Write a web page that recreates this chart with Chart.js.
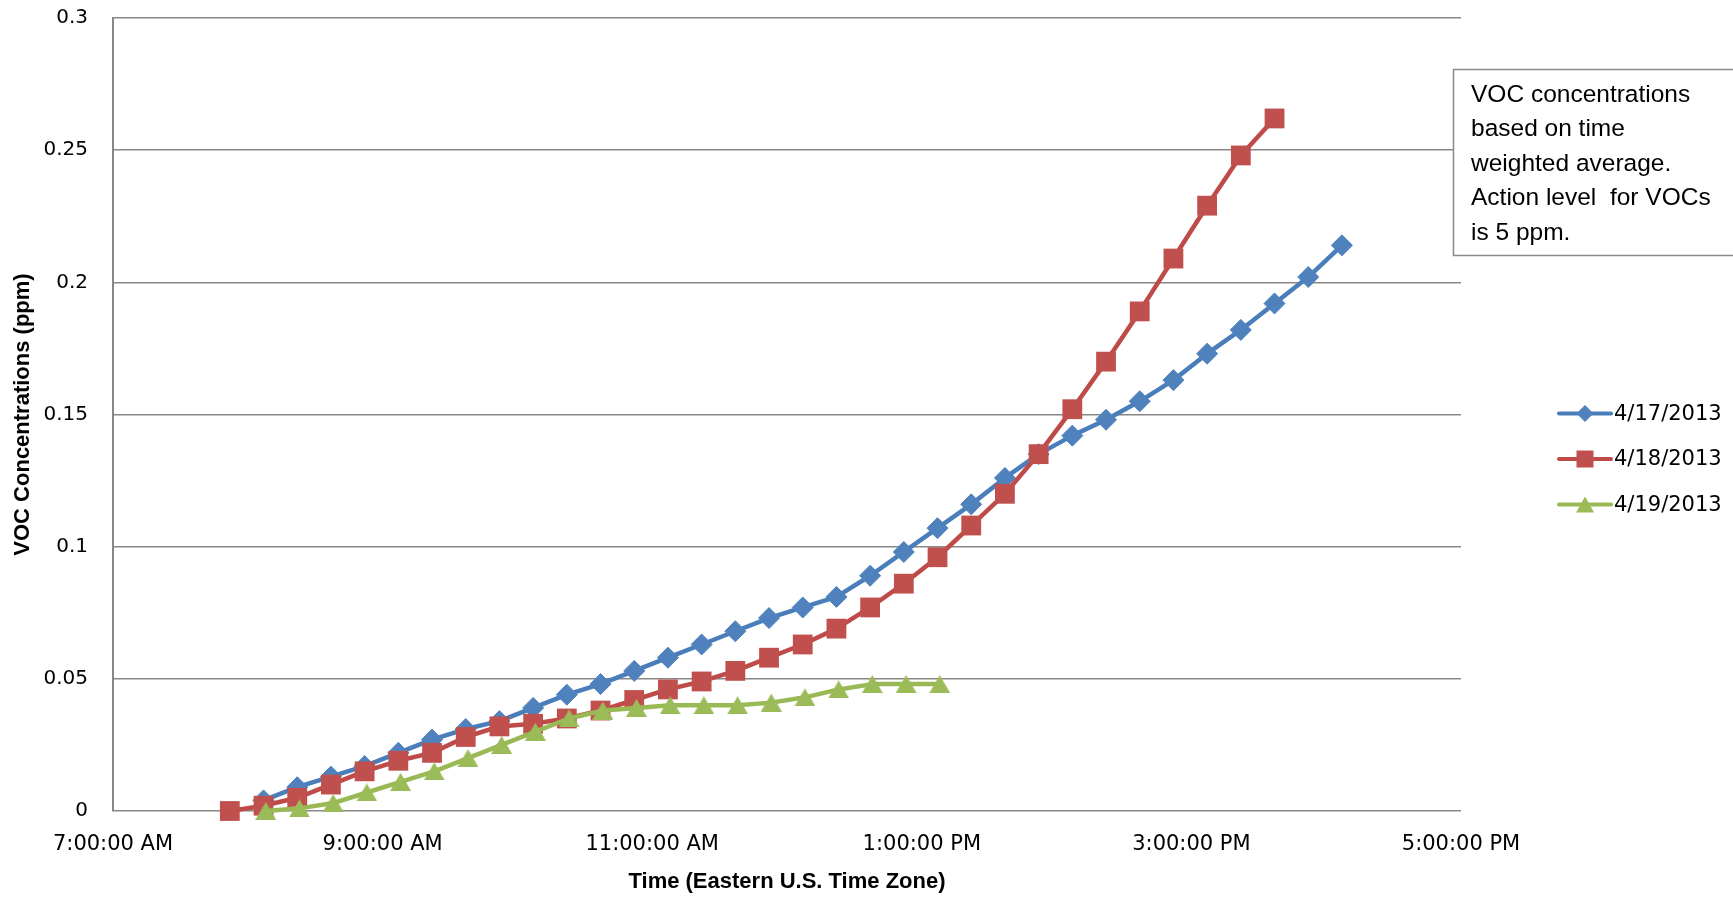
<!DOCTYPE html>
<html>
<head>
<meta charset="utf-8">
<title>VOC Concentrations</title>
<script src="https://cdn.jsdelivr.net/npm/chart.js@4.4.1/dist/chart.umd.min.js"></script>
<style>
  html, body { margin: 0; padding: 0; background: #ffffff; }
  canvas { display: block; }
</style>
</head>
<body>
<canvas id="voc" width="1733" height="899"></canvas>
<script>
// ---- data -------------------------------------------------------------
const xTickValues = [7, 9, 11, 13, 15, 17];
const xTickLabels = ['7:00:00 AM', '9:00:00 AM', '11:00:00 AM', '1:00:00 PM', '3:00:00 PM', '5:00:00 PM'];
const yTickValues = [0, 0.05, 0.1, 0.15, 0.2, 0.25, 0.3];
const yTickLabels = ['0', '0.05', '0.1', '0.15', '0.2', '0.25', '0.3'];

const seriesNames = ['4/17/2013', '4/18/2013', '4/19/2013'];

const times0417 = ['8:07', '8:22', '8:37', '8:52', '9:07', '9:22', '9:37', '9:52', '10:07', '10:22', '10:37',
  '10:52', '11:07', '11:22', '11:37', '11:52', '12:07', '12:22', '12:37', '12:52', '13:07', '13:22',
  '13:37', '13:52', '14:07', '14:22', '14:37', '14:52', '15:07', '15:22', '15:37', '15:52', '16:07'];
const voc0417 = [0.004, 0.009, 0.013, 0.017, 0.022, 0.027, 0.031, 0.034, 0.039, 0.044, 0.048,
  0.053, 0.058, 0.063, 0.068, 0.073, 0.077, 0.081, 0.089, 0.098, 0.107, 0.116,
  0.126, 0.135, 0.142, 0.148, 0.155, 0.163, 0.173, 0.182, 0.192, 0.202, 0.214];

const times0418 = ['7:52', '8:07', '8:22', '8:37', '8:52', '9:07', '9:22', '9:37', '9:52', '10:07', '10:22',
  '10:37', '10:52', '11:07', '11:22', '11:37', '11:52', '12:07', '12:22', '12:37', '12:52', '13:07',
  '13:22', '13:37', '13:52', '14:07', '14:22', '14:37', '14:52', '15:07', '15:22', '15:37'];
const voc0418 = [0.000, 0.002, 0.005, 0.010, 0.015, 0.019, 0.022, 0.028, 0.032, 0.033, 0.035,
  0.038, 0.042, 0.046, 0.049, 0.053, 0.058, 0.063, 0.069, 0.077, 0.086, 0.096,
  0.108, 0.120, 0.135, 0.152, 0.170, 0.189, 0.209, 0.229, 0.248, 0.262];

const times0419 = ['8:08', '8:23', '8:38', '8:53', '9:08', '9:23', '9:38', '9:53', '10:08', '10:23', '10:38',
  '10:53', '11:08', '11:23', '11:38', '11:53', '12:08', '12:23', '12:38', '12:53', '13:08'];
const voc0419 = [0.000, 0.001, 0.003, 0.007, 0.011, 0.015, 0.020, 0.025, 0.030, 0.035, 0.038,
  0.039, 0.040, 0.040, 0.040, 0.041, 0.043, 0.046, 0.048, 0.048, 0.048];

const noteLines = ['VOC concentrations', 'based on time', 'weighted average.', 'Action level  for VOCs', 'is 5 ppm.'];

// ---- helpers ----------------------------------------------------------
function toHours(t) {
  const [h, m] = t.split(':').map(Number);
  return h + m / 60;
}
function toPoints(times, values) {
  return times.map((t, i) => ({ x: toHours(t), y: values[i] }));
}
// Triangle marker whose bounding box is centred on the data point
function triangleMarker(color, w, h) {
  const c = document.createElement('canvas');
  c.width = w; c.height = h;
  const g = c.getContext('2d');
  g.fillStyle = color;
  g.beginPath();
  g.moveTo(w / 2, 0);
  g.lineTo(w, h);
  g.lineTo(0, h);
  g.closePath();
  g.fill();
  return c;
}

const BLUE_LINE = '#4A7EBB', BLUE_MARK = '#4F81BD';
const RED_LINE = '#BE4B48', RED_MARK = '#C0504D';
const GREEN_LINE = '#98B954', GREEN_MARK = '#9BBB59';
const GRID = '#878787';

const greenTriangle = triangleMarker(GREEN_MARK, 21, 18);

// ---- side legend and note box -----------------------------------------
const legendStyles = [
  { line: BLUE_LINE, mark: BLUE_MARK, shape: 'diamond' },
  { line: RED_LINE, mark: RED_MARK, shape: 'square' },
  { line: GREEN_LINE, mark: GREEN_MARK, shape: 'triangle' }
];

const sidePanel = {
  id: 'sidePanel',
  afterDraw(chart) {
    const ctx = chart.ctx;
    ctx.save();

    // note box
    ctx.fillStyle = '#ffffff';
    ctx.fillRect(1453, 69, 300, 186);
    ctx.strokeStyle = '#8a8a8a';
    ctx.lineWidth = 1.5;
    ctx.strokeRect(1453.5, 69.5, 300, 186);
    ctx.fillStyle = '#000000';
    ctx.font = '24.5px "Liberation Sans", Arial, sans-serif';
    ctx.textBaseline = 'middle';
    ctx.textAlign = 'left';
    noteLines.forEach((line, i) => ctx.fillText(line, 1471, 95 + i * 34.5));

    // legend
    chart.data.datasets.forEach((ds, i) => {
      const st = legendStyles[i];
      const y = 413.5 + i * 45.5;
      ctx.strokeStyle = st.line;
      ctx.lineWidth = 4;
      ctx.lineCap = 'round';
      ctx.beginPath();
      ctx.moveTo(1559, y);
      ctx.lineTo(1611, y);
      ctx.stroke();
      const cx = 1585;
      ctx.fillStyle = st.mark;
      ctx.beginPath();
      if (st.shape === 'diamond') {
        ctx.moveTo(cx, y - 8.5); ctx.lineTo(cx + 8.5, y); ctx.lineTo(cx, y + 8.5); ctx.lineTo(cx - 8.5, y);
      } else if (st.shape === 'square') {
        ctx.rect(cx - 8.5, y - 8.5, 17, 17);
      } else {
        ctx.moveTo(cx, y - 8); ctx.lineTo(cx + 9, y + 8); ctx.lineTo(cx - 9, y + 8);
      }
      ctx.closePath();
      ctx.fill();
      ctx.fillStyle = '#000000';
      ctx.font = '21px "DejaVu Sans", sans-serif';
      ctx.textBaseline = 'middle';
      ctx.fillText(ds.label, 1614, y + 1);
    });
    ctx.restore();
  }
};

// ---- chart ------------------------------------------------------------
const xTickFont = { family: '"DejaVu Sans", sans-serif', size: 21 };
const yTickFont = { family: '"DejaVu Sans", sans-serif', size: 20 };
const titleFont = { family: '"Liberation Sans", Arial, sans-serif', size: 22, weight: 'bold' };

new Chart(document.getElementById('voc'), {
  type: 'line',
  data: {
    datasets: [
      {
        label: seriesNames[0],
        data: toPoints(times0417, voc0417),
        borderColor: BLUE_LINE, backgroundColor: BLUE_MARK,
        borderWidth: 4.5, pointStyle: 'rectRot', pointRadius: 10.5,
        pointBackgroundColor: BLUE_MARK, pointBorderColor: BLUE_MARK, pointBorderWidth: 1,
        order: 3
      },
      {
        label: seriesNames[1],
        data: toPoints(times0418, voc0418),
        borderColor: RED_LINE, backgroundColor: RED_MARK,
        borderWidth: 4.5, pointStyle: 'rect', pointRadius: 14,
        pointBackgroundColor: RED_MARK, pointBorderColor: RED_MARK, pointBorderWidth: 0,
        order: 2
      },
      {
        label: seriesNames[2],
        data: toPoints(times0419, voc0419),
        borderColor: GREEN_LINE, backgroundColor: GREEN_MARK,
        borderWidth: 4.5, pointStyle: greenTriangle, pointRadius: 10,
        order: 1
      }
    ]
  },
  options: {
    responsive: false,
    animation: false,
    devicePixelRatio: 1,
    datasets: {
      line: { tension: 0, clip: false, borderJoinStyle: 'round', borderCapStyle: 'round', fill: false }
    },
    layout: { padding: { top: 18, right: 272, left: 0, bottom: 0 } },
    plugins: {
      legend: { display: false },
      tooltip: { enabled: false }
    },
    scales: {
      x: {
        type: 'linear',
        min: 7,
        max: 17,
        afterBuildTicks: (scale) => { scale.ticks = xTickValues.map(v => ({ value: v })); },
        afterFit: (scale) => { scale.height = 88; },
        grid: { display: false, drawTicks: false },
        border: { display: false },
        ticks: {
          font: xTickFont, color: '#000000', padding: 21, maxRotation: 0, autoSkip: false,
          callback: (v) => xTickLabels[xTickValues.indexOf(v)]
        },
        title: {
          display: true, text: 'Time (Eastern U.S. Time Zone)',
          font: titleFont, color: '#000000', padding: { top: 0, bottom: 4 }
        }
      },
      y: {
        type: 'linear',
        min: 0,
        max: 0.3,
        afterBuildTicks: (scale) => { scale.ticks = yTickValues.map(v => ({ value: v })); },
        afterFit: (scale) => { scale.width = 113; scale.paddingTop = 0; scale.paddingBottom = 0; },
        grid: { color: GRID, lineWidth: 1.5, drawTicks: false },
        border: { display: true, color: GRID, width: 2 },
        ticks: {
          font: yTickFont, color: '#000000', padding: 25,
          callback: (v) => yTickLabels[yTickValues.indexOf(v)]
        },
        title: {
          display: true, text: 'VOC Concentrations (ppm)',
          font: titleFont, color: '#000000', padding: { top: 10, bottom: 0 }
        }
      }
    }
  },
  plugins: [sidePanel]
});
</script>
</body>
</html>
